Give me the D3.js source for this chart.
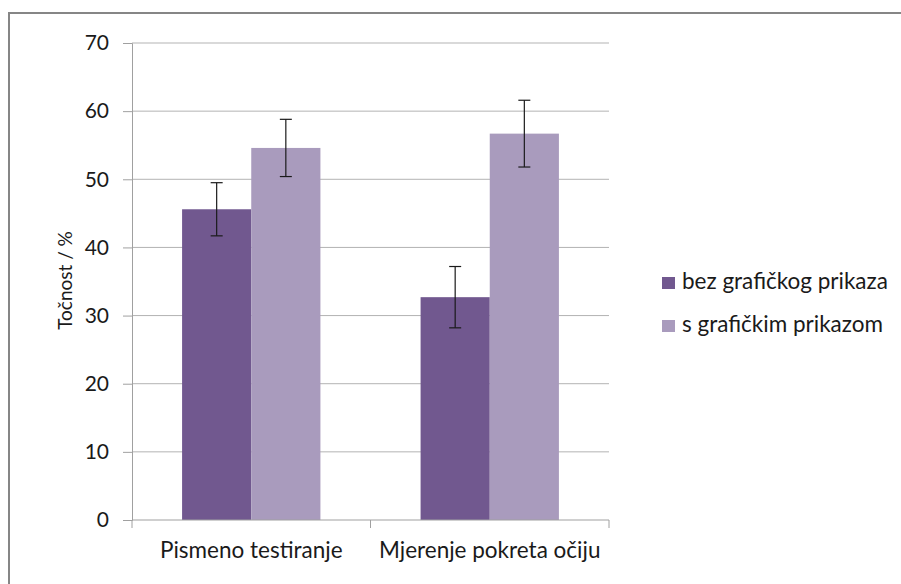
<!DOCTYPE html>
<html>
<head>
<meta charset="utf-8">
<script src="https://cdn.jsdelivr.net/npm/d3@7"></script>
<style>
  body { margin: 0; background: #fff; }
  svg text { font-family: Lato, "Open Sans", sans-serif; fill: #1a1a1a; }
</style>
</head>
<body>
<div id="chart"></div>
<script>
const categories = ["Pismeno testiranje", "Mjerenje pokreta očiju"]
const seriesNames = ["bez grafičkog prikaza", "s grafičkim prikazom"]
const bezValues = [45.6, 32.7]
const bezErrors = [3.9, 4.5]
const sValues = [54.6, 56.7]
const sErrors = [4.2, 4.9]
const yTicks = [0, 10, 20, 30, 40, 50, 60, 70]
const colors = ["#71588f", "#a99bbd"]

const width = 901
const height = 584
const margin = { top: 43, right: 292, bottom: 64, left: 132 }

const svg = d3.select("#chart")
  .append("svg")
  .attr("width", width)
  .attr("height", height)

// outer chart frame, cut off at right and bottom like the original
svg.append("rect")
  .attr("x", 9)
  .attr("y", 13)
  .attr("width", width + 20)
  .attr("height", height + 20)
  .attr("fill", "none")
  .attr("stroke", "#868686")
  .attr("stroke-width", 2)

const x0 = d3.scaleBand()
  .domain(categories)
  .range([margin.left, width - margin.right])
  .paddingInner(0.42)
  .paddingOuter(0.21)

const x1 = d3.scaleBand()
  .domain(seriesNames)
  .range([0, x0.bandwidth()])

const y = d3.scaleLinear()
  .domain([0, 70])
  .range([height - margin.bottom, margin.top])

// gridlines
svg.append("g")
  .selectAll("line")
  .data(yTicks.filter(d => d > 0))
  .enter()
  .append("line")
  .attr("x1", margin.left)
  .attr("x2", width - margin.right)
  .attr("y1", d => y(d))
  .attr("y2", d => y(d))
  .attr("stroke", "#b3b3b3")
  .attr("stroke-width", 1)

// y axis
const yAxis = svg.append("g")
  .attr("transform", `translate(${margin.left},0)`)
  .call(d3.axisLeft(y).tickValues(yTicks).tickSize(9).tickPadding(14))
yAxis.select(".domain").attr("stroke", "#a0a0a0")
yAxis.selectAll(".tick line").attr("stroke", "#a0a0a0")
yAxis.selectAll(".tick text")
  .attr("font-size", 21)
  .attr("fill", "#1a1a1a")
  .style("font-family", "Lato, 'Open Sans', sans-serif")

// bars
const data = categories.map((c, i) => ({
  cat: c,
  vals: [
    { s: seriesNames[0], v: bezValues[i], e: bezErrors[i], c: colors[0] },
    { s: seriesNames[1], v: sValues[i], e: sErrors[i], c: colors[1] }
  ]
}))

const groups = svg.append("g")
  .selectAll("g")
  .data(data)
  .enter()
  .append("g")
  .attr("transform", d => `translate(${x0(d.cat)},0)`)

groups.selectAll("rect")
  .data(d => d.vals)
  .enter()
  .append("rect")
  .attr("x", d => x1(d.s))
  .attr("width", x1.bandwidth())
  .attr("y", d => y(d.v))
  .attr("height", d => y(0) - y(d.v))
  .attr("fill", d => d.c)

// error bars
const err = groups.selectAll(".err")
  .data(d => d.vals)
  .enter()
  .append("g")
  .attr("class", "err")
  .attr("stroke", "#1a1a1a")
  .attr("stroke-width", 1.2)

err.append("line")
  .attr("x1", d => x1(d.s) + x1.bandwidth() / 2)
  .attr("x2", d => x1(d.s) + x1.bandwidth() / 2)
  .attr("y1", d => y(d.v + d.e))
  .attr("y2", d => y(d.v - d.e))
err.append("line")
  .attr("x1", d => x1(d.s) + x1.bandwidth() / 2 - 6)
  .attr("x2", d => x1(d.s) + x1.bandwidth() / 2 + 6)
  .attr("y1", d => y(d.v + d.e))
  .attr("y2", d => y(d.v + d.e))
err.append("line")
  .attr("x1", d => x1(d.s) + x1.bandwidth() / 2 - 6)
  .attr("x2", d => x1(d.s) + x1.bandwidth() / 2 + 6)
  .attr("y1", d => y(d.v - d.e))
  .attr("y2", d => y(d.v - d.e))

// x axis with category dividers
const xAxis = svg.append("g")
  .attr("transform", `translate(0,${y(0)})`)
xAxis.append("line")
  .attr("x1", margin.left)
  .attr("x2", width - margin.right)
  .attr("stroke", "#a0a0a0")
const dividers = [margin.left, (x0(categories[0]) + x0.bandwidth() + x0(categories[1])) / 2, width - margin.right]
xAxis.selectAll(".div")
  .data(dividers)
  .enter()
  .append("line")
  .attr("x1", d => d)
  .attr("x2", d => d)
  .attr("y1", 0)
  .attr("y2", 8)
  .attr("stroke", "#a0a0a0")
xAxis.selectAll("text")
  .data(categories)
  .enter()
  .append("text")
  .attr("x", d => x0(d) + x0.bandwidth() / 2)
  .attr("y", 38)
  .attr("text-anchor", "middle")
  .attr("font-size", 22.5)
  .text(d => d)

// y axis title
svg.append("text")
  .attr("transform", `translate(72,${(y(0) + y(70)) / 2 - 1}) rotate(-90)`)
  .attr("text-anchor", "middle")
  .attr("font-size", 19)
  .text("Točnost / %")

// legend
const legend = svg.append("g")
  .attr("transform", "translate(662,277)")
const li = legend.selectAll("g")
  .data(seriesNames)
  .enter()
  .append("g")
  .attr("transform", (d, i) => `translate(0,${i * 43})`)
li.append("rect")
  .attr("width", 13)
  .attr("height", 12)
  .attr("fill", (d, i) => colors[i])
li.append("text")
  .attr("x", 20)
  .attr("y", 11.5)
  .attr("font-size", 22.5)
  .text(d => d)
</script>
</body>
</html>
